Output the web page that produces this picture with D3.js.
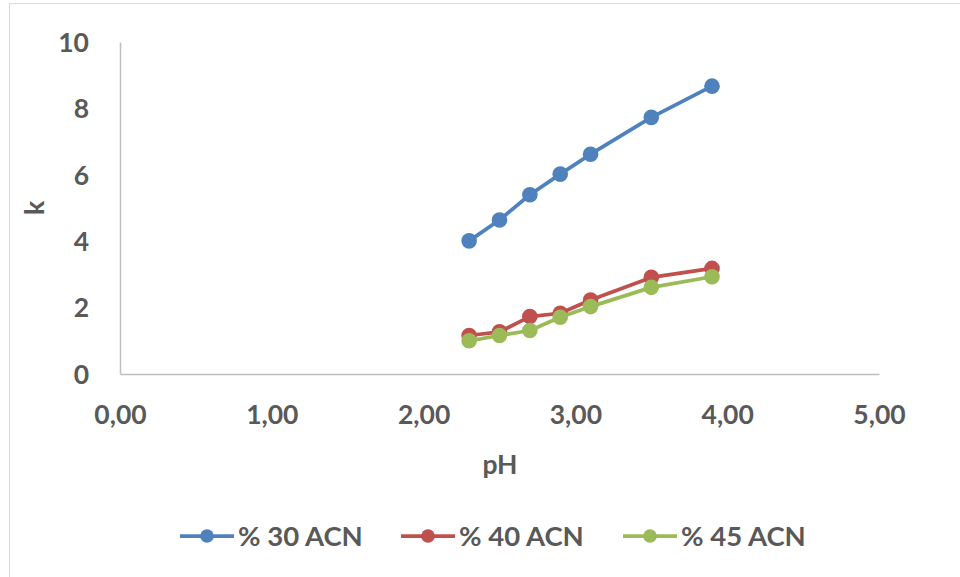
<!DOCTYPE html>
<html>
<head>
<meta charset="utf-8">
<script src="https://cdn.jsdelivr.net/npm/d3@7/dist/d3.min.js"></script>
<style>
  html, body { margin: 0; padding: 0; background: #fff; }
  text { font-family: Lato, "Open Sans", sans-serif; font-weight: bold; fill: #595959; }
</style>
</head>
<body>
<svg id="chart" width="960" height="577"></svg>
<script>
const phValues = [2.3, 2.5, 2.7, 2.9, 3.1, 3.5, 3.9];
const seriesNames = ["% 30 ACN", "% 40 ACN", "% 45 ACN"];
const k30 = [4.01, 4.64, 5.40, 6.02, 6.62, 7.73, 8.67];
const k40 = [1.16, 1.27, 1.73, 1.83, 2.23, 2.91, 3.18];
const k45 = [1.00, 1.16, 1.31, 1.71, 2.03, 2.61, 2.93];
const seriesColors = ["#4F81BD", "#C0504D", "#9BBB59"];
const xTicks = [0, 1, 2, 3, 4, 5];
const yTicks = [0, 2, 4, 6, 8, 10];
const xTitle = "pH";
const yTitle = "k";

const svg = d3.select("#chart");

// outer border (chart area frame)
svg.append("path")
  .attr("d", "M9.5,577 V3.5 H960")
  .attr("fill", "none").attr("stroke", "#d9d9d9").attr("stroke-width", 1);

const x = d3.scaleLinear().domain([0, 5]).range([120, 879]);
const y = d3.scaleLinear().domain([0, 10]).range([374, 42]);

// axes
const xAxis = d3.axisBottom(x).tickValues(xTicks).tickSize(0).tickPadding(0)
  .tickFormat(d => d3.format(".2f")(d).replace(".", ","));
const gx = svg.append("g").attr("transform", "translate(0,374)").call(xAxis);
gx.select(".domain").attr("stroke", "#bfbfbf").attr("stroke-width", 1.5);
gx.selectAll("text").attr("dy", null).attr("y", 50)
  .style("font-size", "26.5px").style("font-family", "Lato").attr("fill", "#595959");

const yAxis = d3.axisLeft(y).tickValues(yTicks).tickSize(0).tickPadding(0);
const gy = svg.append("g").attr("transform", "translate(120,0)").call(yAxis);
gy.select(".domain").attr("stroke", "#bfbfbf").attr("stroke-width", 1.5);
gy.selectAll("text").attr("x", -31).attr("dy", "0.35em")
  .style("font-size", "26.5px").style("font-family", "Lato").attr("fill", "#595959");

// titles
svg.append("text").attr("x", 500).attr("y", 474).attr("text-anchor", "middle")
  .style("font-size", "26.5px").text(xTitle);
svg.append("text").attr("transform", "translate(44,208) rotate(-90)")
  .attr("text-anchor", "middle").style("font-size", "26.5px").text(yTitle);

// series
const allSeries = [k30, k40, k45].map((vals, i) => ({
  name: seriesNames[i], color: seriesColors[i],
  points: phValues.map((p, j) => ({ x: p, y: vals[j] }))
}));

const line = d3.line().x(d => x(d.x)).y(d => y(d.y));

allSeries.forEach(s => {
  const g = svg.append("g");
  g.append("path").datum(s.points).attr("d", line)
    .attr("fill", "none").attr("stroke", s.color).attr("stroke-width", 3.75)
    .attr("stroke-linejoin", "round");
  g.selectAll("circle").data(s.points).join("circle")
    .attr("cx", d => x(d.x)).attr("cy", d => y(d.y)).attr("r", 7.8)
    .attr("fill", s.color);
});

// legend
const legendStarts = [180, 401, 623];
allSeries.forEach((s, i) => {
  const lx = legendStarts[i], ly = 536;
  const g = svg.append("g");
  g.append("line").attr("x1", lx).attr("x2", lx + 54).attr("y1", ly).attr("y2", ly)
    .attr("stroke", s.color).attr("stroke-width", 3.75);
  g.append("circle").attr("cx", lx + 27).attr("cy", ly).attr("r", 6.8).attr("fill", s.color);
  g.append("text").attr("x", lx + 58).attr("y", ly).attr("dy", "0.35em")
    .style("font-size", "27.5px").text(s.name);
});
</script>
</body>
</html>
